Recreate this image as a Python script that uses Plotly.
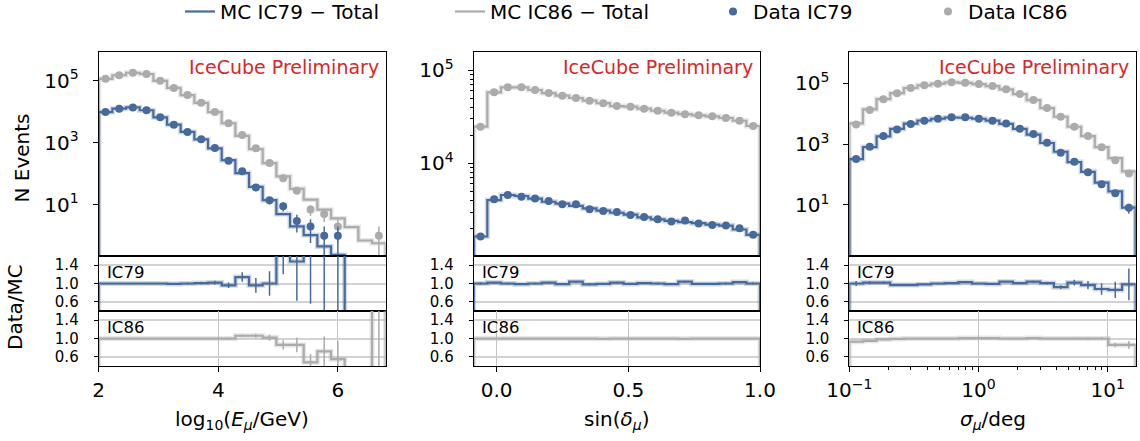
import numpy as np
import plotly.graph_objects as go

FONT = "DejaVu Sans"
BLUE = "#476a9c"
GREY = "#ababab"
BLUE_HALO = "rgba(71,106,156,0.25)"
GREY_HALO = "rgba(171,171,171,0.30)"
RED = "#d62728"

# ---------------- energy panel: log10(E/GeV), 21 bins from 2 to 6.8 ----------------
e_range = [2.0, 6.8]
e_ic79_data = [9770, 12600, 13800, 11200, 6610, 3800, 2240, 1290, 676, 263, 120, 36, 14, 9, 3, 2, 1, 1, 0, 0, 0]
e_ic79_mc = [9770, 12600, 13800, 11200, 6610, 3840, 2240, 1277, 663, 274, 105, 37.5, 14, 5.0, 2.0, 1.05, 0.45, 0.24, 0, 0, 0]
e_ic86_data = [116000, 151000, 182000, 166000, 100000, 58900, 34700, 19500, 9770, 4270, 1780, 661, 224, 71, 28, 7, 5, 2, 0, 0, 1]
e_ic86_mc = [116000, 151000, 182000, 166000, 100000, 58900, 34700, 19500, 9770, 4270, 1680, 624, 220, 82.6, 32.6, 14.6, 6.9, 3.6, 1.9, 0.7, 0.57]
e_ic79_ratio = [1.0, 1.0, 1.0, 1.0, 1.0, 0.99, 1.0, 1.01, 1.02, 0.96, 1.14, 0.96, 1.0, 1.8, 1.48, 1.9, 2.2, 4.2, 0, 0, 0]
e_ic86_ratio = [1.0, 1.0, 1.0, 1.0, 1.0, 1.0, 1.0, 1.0, 1.0, 1.0, 1.06, 1.06, 1.02, 0.86, 0.86, 0.48, 0.72, 0.55, 0, 0, 1.75]
e_ticks = [2, 4, 6]
e_ticktext = ["2", "4", "6"]

# ---------------- declination panel: sin(delta), 21 bins from -0.0872 to 1 ----------------
d_range = [-0.0872, 1.0]
d_ic79_data = [1640, 4110, 4570, 4390, 4180, 3950, 3640, 3640, 3210, 3080, 3010, 2790, 2660, 2510, 2370, 2430, 2260, 2180, 2150, 2010, 1710]
d_ic79_mc = [1640, 4030, 4570, 4460, 4180, 3870, 3700, 3500, 3280, 3110, 2950, 2820, 2630, 2510, 2410, 2340, 2280, 2200, 2150, 1950, 1710]
d_ic86_data = [24700, 57700, 65200, 65200, 61100, 56600, 53100, 50100, 46900, 44000, 41100, 40500, 38500, 36600, 34900, 33500, 32700, 31900, 30600, 28600, 25100]
d_ic86_mc = [24700, 57700, 65200, 65200, 61100, 56600, 53100, 50100, 46900, 44200, 41100, 40500, 38500, 36600, 34900, 33700, 32700, 31900, 30600, 28600, 25100]
d_ic79_ratio = [1.0, 1.02, 1.0, 0.985, 1.0, 1.02, 0.985, 1.04, 0.98, 0.99, 1.02, 0.99, 1.01, 1.0, 0.985, 1.04, 0.99, 0.99, 1.0, 1.03, 1.0]
d_ic86_ratio = [1.0, 1.0, 1.0, 1.0, 1.0, 1.0, 1.0, 1.0, 1.0, 0.995, 1.0, 1.0, 1.0, 1.0, 1.0, 0.995, 1.0, 1.0, 1.0, 1.0, 1.0]
d_ticks = [0.0, 0.5, 1.0]
d_ticktext = ["0.0", "0.5", "1.0"]

# ---------------- angular error panel: sigma/deg, 21 log bins from 0.1 to ~16.5 ----------------
s_range_log = [-1.0, 1.2167]
s_ic79_data = [321, 815, 1840, 3050, 4560, 5860, 6820, 7590, 7590, 6820, 5860, 4810, 3190, 2140, 1100, 516, 261, 119, 48, 24, 8]
s_ic79_mc = [321, 799, 1804, 3161, 4725, 5980, 6820, 7515, 7369, 6820, 5919, 4625, 3158, 2058, 1089, 561, 256, 123, 54.5, 27.9, 8.2]
s_ic86_data = [4460, 13200, 29700, 46800, 70000, 85900, 97000, 108000, 105000, 94800, 81500, 63400, 44400, 28200, 15300, 7940, 3720, 1840, 796, 297, 108]
s_ic86_mc = [4796, 13895, 30306, 47273, 70000, 85900, 97000, 108000, 103960, 93861, 80693, 63400, 44400, 27921, 15300, 7940, 3720, 1840, 796, 345, 126]
s_ic79_ratio = [1.0, 1.02, 1.02, 0.965, 0.965, 0.98, 1.0, 1.01, 1.03, 1.0, 0.99, 1.04, 1.01, 1.04, 1.01, 0.92, 1.02, 0.965, 0.88, 0.86, 0.98]
s_ic86_ratio = [0.93, 0.95, 0.98, 0.99, 1.0, 1.0, 1.0, 1.0, 1.01, 1.01, 1.01, 1.0, 1.0, 1.01, 1.0, 1.0, 1.0, 1.0, 1.0, 0.86, 0.86]
s_ticks = [0.1, 1, 10]
s_ticktext = ["10<sup>\u22121</sup>", "10<sup>0</sup>", "10<sup>1</sup>"]

ratio_ticks = [0.6, 1.0, 1.4]
ratio_ticktext = ["0.6", "1.0", "1.4"]

N_BINS = 21
e_edges = np.linspace(e_range[0], e_range[1], N_BINS + 1)
d_edges = np.linspace(d_range[0], d_range[1], N_BINS + 1)
s_edges = np.logspace(s_range_log[0], s_range_log[1], N_BINS + 1)

panels = [
    dict(edges=e_edges, centers=(e_edges[:-1] + e_edges[1:]) / 2, xtype="linear", xrange=e_range,
         yrange=[-0.655, 5.92], ytickvals=[10, 1000, 100000],
         yticktext=["10<sup>1</sup>", "10<sup>3</sup>", "10<sup>5</sup>"], yminor=None,
         d79=e_ic79_data, m79=e_ic79_mc, d86=e_ic86_data, m86=e_ic86_mc, r79=e_ic79_ratio, r86=e_ic86_ratio,
         xt=e_ticks, xtt=e_ticktext, xminor=None,
         title="log<sub>10</sub>(<i>E</i><sub><i>\u03bc</i></sub>/GeV)"),
    dict(edges=d_edges, centers=(d_edges[:-1] + d_edges[1:]) / 2, xtype="linear", xrange=d_range,
         yrange=[3.006, 5.19], ytickvals=[10000, 100000],
         yticktext=["10<sup>4</sup>", "10<sup>5</sup>"],
         yminor=[2000, 3000, 4000, 5000, 6000, 7000, 8000, 9000, 20000, 30000, 40000, 50000, 60000, 70000, 80000, 90000],
         d79=d_ic79_data, m79=d_ic79_mc, d86=d_ic86_data, m86=d_ic86_mc, r79=d_ic79_ratio, r86=d_ic86_ratio,
         xt=d_ticks, xtt=d_ticktext, xminor=None,
         title="sin(<i>\u03b4</i><sub><i>\u03bc</i></sub>)"),
    dict(edges=s_edges, centers=np.sqrt(s_edges[:-1] * s_edges[1:]), xtype="log", xrange=s_range_log,
         yrange=[-0.68, 6.02], ytickvals=[10, 1000, 100000],
         yticktext=["10<sup>1</sup>", "10<sup>3</sup>", "10<sup>5</sup>"], yminor=None,
         d79=s_ic79_data, m79=s_ic79_mc, d86=s_ic86_data, m86=s_ic86_mc, r79=s_ic79_ratio, r86=s_ic86_ratio,
         xt=s_ticks, xtt=s_ticktext,
         xminor=[0.2, 0.3, 0.4, 0.5, 0.6, 0.7, 0.8, 0.9, 2, 3, 4, 5, 6, 7, 8, 9],
         title="<i>\u03c3</i><sub><i>\u03bc</i></sub>/deg"),
]

W, H = 1140, 441
xdom_px = [(98.7, 385.7), (473.7, 760.0), (849.3, 1135.7)]
ydom_px = [(52.3, 256.0), (256.0, 311.0), (311.0, 366.0)]


def xdom(c):
    a, b = xdom_px[c]
    return [a / W, b / W]


def ydom(r):
    a, b = ydom_px[r]
    return [1 - b / H, 1 - a / H]


def step_xy(edges, vals, floor):
    v = [x if x > 0 else floor for x in vals]
    xs = [edges[0]] + list(edges[:-1]) + [edges[-1], edges[-1]]
    ys = [floor] + v + [v[-1], floor]
    return xs, ys


fig = go.Figure()
layout = dict(
    width=W, height=H,
    margin=dict(l=0, r=0, t=0, b=0, autoexpand=False),
    paper_bgcolor="white", plot_bgcolor="white",
    font=dict(family=FONT, size=20, color="black"),
    showlegend=True,
    legend=dict(orientation="h", x=(220 - 40) / W, y=1.0 + 8 / H, xanchor="left", yanchor="top",
                font=dict(family=FONT, size=20), bgcolor="rgba(0,0,0,0)",
                entrywidth=225, entrywidthmode="pixels", traceorder="normal"),
    legend2=dict(orientation="h", x=(753 - 40) / W, y=1.0 + 8 / H, xanchor="left", yanchor="top",
                 font=dict(family=FONT, size=20), bgcolor="rgba(0,0,0,0)",
                 entrywidth=170, entrywidthmode="pixels", traceorder="normal"),
)
annotations = []

axis_line = dict(showline=True, linecolor="black", linewidth=1, mirror=True, zeroline=False)

for c, P in enumerate(panels):
    kb = 3 * c + 3
    for r in range(3):
        k = 3 * c + r + 1
        xa = "xaxis" if k == 1 else f"xaxis{k}"
        ya = "yaxis" if k == 1 else f"yaxis{k}"
        xr = "x" if k == 1 else f"x{k}"
        yr = "y" if k == 1 else f"y{k}"
        xaxis = dict(domain=xdom(c), anchor=yr, type=P["xtype"], range=P["xrange"], showgrid=False, **axis_line)
        if k != kb:
            xaxis.update(matches=f"x{kb}", showticklabels=False, ticks="")
        else:
            xaxis.update(tickmode="array", tickvals=P["xt"], ticktext=P["xtt"], ticks="outside", ticklen=5,
                         tickcolor="black", tickfont=dict(size=20), showgrid=True, gridcolor="#c4c4c4",
                         gridwidth=1, ticklabelstandoff=1)
            if P["xminor"]:
                xaxis["minor"] = dict(tickvals=P["xminor"], ticks="outside", ticklen=3, tickcolor="black",
                                      showgrid=False)
        layout[xa] = xaxis
        if r == 0:
            yaxis = dict(domain=ydom(0), anchor=xr, type="log", range=P["yrange"], tickmode="array",
                         tickvals=P["ytickvals"], ticktext=P["yticktext"], ticks="outside", ticklen=5,
                         tickcolor="black", tickfont=dict(size=20), showgrid=False, ticklabelstandoff=10,
                         **axis_line)
            if P["yminor"]:
                yaxis["minor"] = dict(tickvals=P["yminor"], ticks="outside", ticklen=3, tickcolor="black",
                                      showgrid=False)
        else:
            yaxis = dict(domain=ydom(r), anchor=xr, type="linear", range=[0.4, 1.6], tickmode="array",
                         tickvals=ratio_ticks, ticktext=ratio_ticktext, ticks="outside", ticklen=4,
                         tickcolor="black", tickfont=dict(size=15), showgrid=True, gridcolor="#d2d2d2",
                         gridwidth=1.5, ticklabelstandoff=12, **axis_line)
        layout[ya] = yaxis

    xm = "x" if c == 0 else f"x{3 * c + 1}"
    ym = "y" if c == 0 else f"y{3 * c + 1}"
    edges, centers = P["edges"], P["centers"]

    # ---- main panel ----
    series = [
        ("IC86", P["m86"], P["d86"], GREY, GREY_HALO, 2),
        ("IC79", P["m79"], P["d79"], BLUE, BLUE_HALO, 1),
    ]
    for tag, mc, data, col, halo, rank in series:
        xs, ys = step_xy(edges, mc, 1e-4)
        fig.add_trace(go.Scatter(x=xs, y=ys, xaxis=xm, yaxis=ym, mode="lines", line_shape="hv",
                                 line=dict(color=halo, width=5), showlegend=False, hoverinfo="skip"))
        fig.add_trace(go.Scatter(x=xs, y=ys, xaxis=xm, yaxis=ym, mode="lines", line_shape="hv",
                                 line=dict(color=col, width=2.2), name=f"MC {tag} \u2212 Total",
                                 showlegend=(c == 0), legend="legend", legendrank=rank))
    for tag, mc, data, col, halo, rank in series:
        dx, dy, eup, edn = [], [], [], []
        for cx, n in zip(centers, data):
            if n > 0:
                e = float(np.sqrt(n))
                dx.append(cx)
                dy.append(n)
                eup.append(e)
                edn.append(min(e, n * (1 - 1e-4)))
        fig.add_trace(go.Scatter(x=dx, y=dy, xaxis=xm, yaxis=ym, mode="markers",
                                 marker=dict(color=col, size=8),
                                 error_y=dict(type="data", array=eup, arrayminus=edn, symmetric=False,
                                              color=col, thickness=1.5, width=0),
                                 name=f"Data {tag}", showlegend=(c == 0), legend="legend2", legendrank=rank))

    # ---- ratio panels ----
    for r, (ratio, data, col, halo, label) in enumerate(
            [(P["r79"], P["d79"], BLUE, BLUE_HALO, "IC79"), (P["r86"], P["d86"], GREY, GREY_HALO, "IC86")], start=1):
        k = 3 * c + r + 1
        xr, yr = f"x{k}", f"y{k}"
        xs, ys = step_xy(edges, ratio, -1.0)
        fig.add_trace(go.Scatter(x=xs, y=ys, xaxis=xr, yaxis=yr, mode="lines", line_shape="hv",
                                 line=dict(color=halo, width=5), showlegend=False, hoverinfo="skip"))
        fig.add_trace(go.Scatter(x=xs, y=ys, xaxis=xr, yaxis=yr, mode="lines", line_shape="hv",
                                 line=dict(color=col, width=2.2), showlegend=False))
        rx, ry, re = [], [], []
        for cx, q, n in zip(centers, ratio, data):
            if n > 0:
                rx.append(cx)
                ry.append(q)
                re.append(q / float(np.sqrt(n)))
        fig.add_trace(go.Scatter(x=rx, y=ry, xaxis=xr, yaxis=yr, mode="markers",
                                 marker=dict(color="rgba(0,0,0,0)", size=1),
                                 error_y=dict(type="data", array=re, color=col, thickness=1.5, width=0),
                                 showlegend=False))
        ytop = ydom_px[r][0]
        annotations.append(dict(text=label, x=(xdom_px[c][0] + 6) / W, y=1 - (ytop + 16.5) / H,
                                xref="paper", yref="paper", xanchor="left", yanchor="middle",
                                showarrow=False, font=dict(size=16.5)))

    annotations.append(dict(text="IceCube Preliminary", x=(xdom_px[c][1] - 5) / W, y=1 - 66.7 / H,
                            xref="paper", yref="paper", xanchor="right", yanchor="middle",
                            showarrow=False, font=dict(size=19, color=RED)))
    annotations.append(dict(text=P["title"], x=sum(xdom_px[c]) / 2 / W, y=1 - 420 / H,
                            xref="paper", yref="paper", xanchor="center", yanchor="middle",
                            showarrow=False, font=dict(size=20)))

annotations.append(dict(text="N Events", x=21 / W, y=1 - 157.5 / H, xref="paper", yref="paper",
                        textangle=-90, xanchor="center", yanchor="middle", showarrow=False,
                        font=dict(size=20)))
annotations.append(dict(text="Data/MC", x=15 / W, y=1 - 307 / H, xref="paper", yref="paper",
                        textangle=-90, xanchor="center", yanchor="middle", showarrow=False,
                        font=dict(size=20)))

layout["annotations"] = annotations
fig.update_layout(**layout)
fig.write_html("out.html", config={"displayModeBar": False},
               post_script="document.body.style.margin='0px';")
